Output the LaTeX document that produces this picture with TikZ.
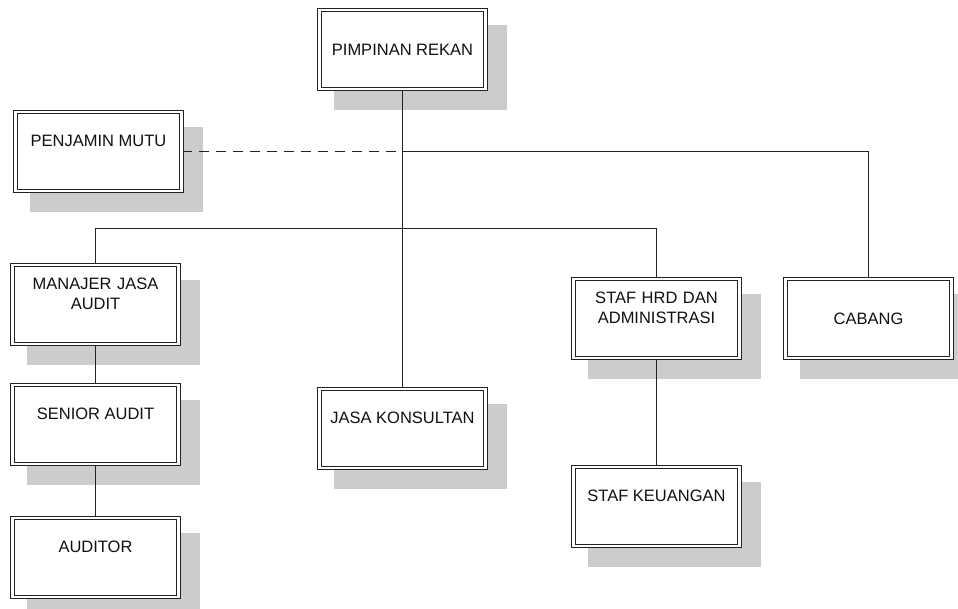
\documentclass[tikz,border=0pt]{standalone}
\usepackage{fontspec}
\setmainfont{Liberation Sans}
\usetikzlibrary{backgrounds}
\definecolor{linec}{HTML}{222222}
\definecolor{shadowc}{HTML}{CCCCCC}
\definecolor{textc}{HTML}{111111}
\tikzset{
  orgbox/.style={draw=linec, double=white, double distance=2.2pt, line width=1.1pt,
    fill=white, minimum width=166pt, minimum height=79pt, inner sep=2pt,
    text=textc, font=\fontsize{16.5}{20}\selectfont, align=center},
  upone/.style={orgbox, text height=12pt, text depth=22pt},
  uptwo/.style={orgbox, text width=160pt, text height=12pt, text depth=42pt},
  conn/.style={draw=linec, line width=1.1pt},
  dashconn/.style={conn, dash pattern=on 10pt off 7pt},
}
\begin{document}
\begin{tikzpicture}[x=1pt, y=-1pt]
\useasboundingbox (0,0) rectangle (958,609);
\node[orgbox] (pim) at (402.5,49.5) {PIMPINAN REKAN};
\node[upone] (pen) at (98.5,151.5) {PENJAMIN MUTU};
\node[uptwo] (man) at (95.5,304.5) {MANAJER JASA\\AUDIT};
\node[upone] (sen) at (95.5,424.5) {SENIOR AUDIT};
\node[upone] (aud) at (95.5,557.5) {AUDITOR};
\node[upone] (jas) at (402.5,428.5) {JASA KONSULTAN};
\node[uptwo] (hrd) at (656.5,318.5) {STAF HRD DAN\\ADMINISTRASI};
\node[upone] (keu) at (656.5,506.5) {STAF KEUANGAN};
\node[orgbox] (cab) at (868.5,318.5) {CABANG};
\begin{scope}[on background layer]
\foreach \n in {pim,pen,man,sen,aud,jas,hrd,keu,cab}{
  \fill[shadowc] ([xshift=15.5pt,yshift=-15.5pt]\n.north west) rectangle ([xshift=20.5pt,yshift=-20.5pt]\n.south east);
}
\coordinate (bus) at (402.5,228.5);
\coordinate (top) at (402.5,151.5);
\draw[conn] (pim.south) -- (jas.north);
\draw[conn] (man.north) |- (bus) -| (hrd.north);
\draw[conn] (top) -| (cab.north);
\draw[dashconn] (pen.east) -- (top);
\draw[conn] (man.south) -- (sen.north);
\draw[conn] (sen.south) -- (aud.north);
\draw[conn] (hrd.south) -- (keu.north);
\end{scope}
\end{tikzpicture}
\end{document}
